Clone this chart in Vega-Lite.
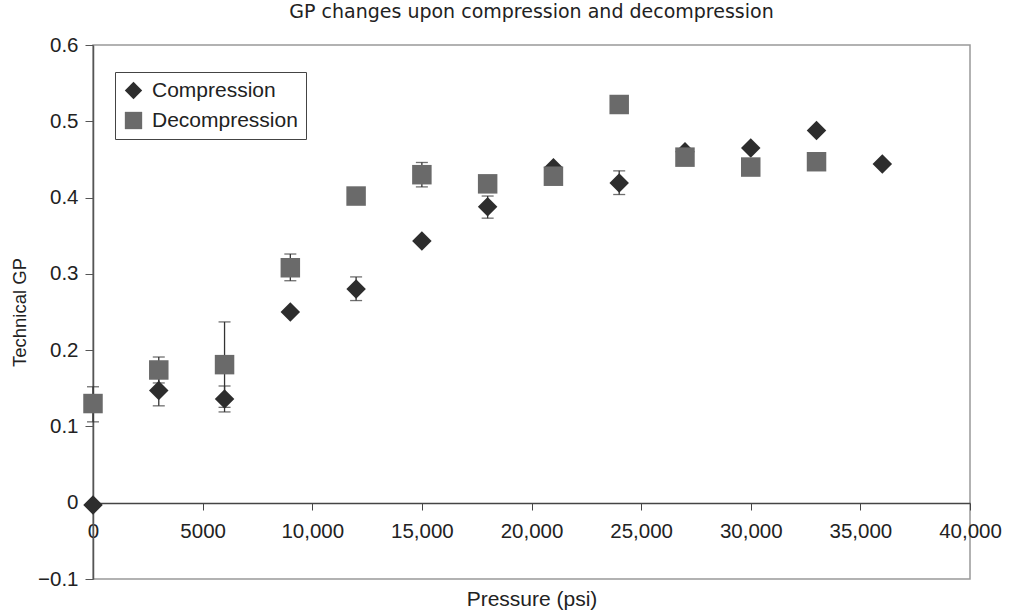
{
  "$schema": "https://vega.github.io/schema/vega-lite/v6.json",
  "width": 877,
  "height": 534,
  "autosize": {"type": "none"},
  "padding": {"left": 93, "top": 45, "right": 40, "bottom": 34},
  "background": "white",
  "title": {
    "text": "GP changes upon compression and decompression",
    "font": "DejaVu Sans",
    "fontSize": 19,
    "fontWeight": "normal",
    "color": "#222",
    "anchor": "middle",
    "offset": 13
  },
  "config": {
    "font": "Liberation Sans",
    "view": {"stroke": "#999", "strokeWidth": 1.5},
    "legend": {
      "labelFont": "Liberation Sans",
      "labelFontSize": 21,
      "labelColor": "#222",
      "symbolSize": 300,
      "symbolStrokeWidth": 0,
      "labelOffset": 8,
      "padding": 8,
      "rowPadding": 8,
      "strokeColor": "#444",
      "fillColor": "white"
    }
  },
  "datasets": {
    "gp": [
      {"pressure": 0, "series": "Compression", "gp": -0.003, "low": null, "high": null},
      {"pressure": 3000, "series": "Compression", "gp": 0.147, "low": 0.127, "high": 0.167},
      {"pressure": 6000, "series": "Compression", "gp": 0.136, "low": 0.119, "high": 0.153},
      {"pressure": 9000, "series": "Compression", "gp": 0.250, "low": null, "high": null},
      {"pressure": 12000, "series": "Compression", "gp": 0.280, "low": 0.265, "high": 0.296},
      {"pressure": 15000, "series": "Compression", "gp": 0.343, "low": null, "high": null},
      {"pressure": 18000, "series": "Compression", "gp": 0.388, "low": 0.373, "high": 0.402},
      {"pressure": 21000, "series": "Compression", "gp": 0.439, "low": null, "high": null},
      {"pressure": 24000, "series": "Compression", "gp": 0.419, "low": 0.404, "high": 0.435},
      {"pressure": 27000, "series": "Compression", "gp": 0.460, "low": null, "high": null},
      {"pressure": 30000, "series": "Compression", "gp": 0.465, "low": null, "high": null},
      {"pressure": 33000, "series": "Compression", "gp": 0.488, "low": null, "high": null},
      {"pressure": 36000, "series": "Compression", "gp": 0.444, "low": null, "high": null},
      {"pressure": 0, "series": "Decompression", "gp": 0.130, "low": 0.106, "high": 0.152},
      {"pressure": 3000, "series": "Decompression", "gp": 0.174, "low": 0.157, "high": 0.191},
      {"pressure": 6000, "series": "Decompression", "gp": 0.181, "low": 0.125, "high": 0.237},
      {"pressure": 9000, "series": "Decompression", "gp": 0.308, "low": 0.291, "high": 0.326},
      {"pressure": 12000, "series": "Decompression", "gp": 0.402, "low": null, "high": null},
      {"pressure": 15000, "series": "Decompression", "gp": 0.430, "low": 0.414, "high": 0.446},
      {"pressure": 18000, "series": "Decompression", "gp": 0.418, "low": null, "high": null},
      {"pressure": 21000, "series": "Decompression", "gp": 0.428, "low": null, "high": null},
      {"pressure": 24000, "series": "Decompression", "gp": 0.522, "low": null, "high": null},
      {"pressure": 27000, "series": "Decompression", "gp": 0.453, "low": null, "high": null},
      {"pressure": 30000, "series": "Decompression", "gp": 0.440, "low": null, "high": null},
      {"pressure": 33000, "series": "Decompression", "gp": 0.447, "low": null, "high": null}
    ]
  },
  "data": {"name": "gp"},
  "layer": [
    {
      "transform": [{"filter": "isValid(datum.low)"}],
      "mark": {"type": "errorbar", "color": "#333", "thickness": 1.3, "ticks": {"size": 12, "color": "#333"}},
      "encoding": {
        "x": {"field": "pressure", "type": "quantitative", "title": "Pressure (psi)"},
        "y": {"field": "low", "type": "quantitative", "title": "Technical GP"},
        "y2": {"field": "high"}
      }
    },
    {
      "mark": {"type": "point", "filled": true, "size": 380, "opacity": 1},
      "encoding": {
        "x": {
          "field": "pressure",
          "type": "quantitative",
          "scale": {"domain": [0, 40000], "nice": false, "zero": false},
          "axis": {
            "title": "Pressure (psi)",
            "values": [0, 5000, 10000, 15000, 20000, 25000, 30000, 35000, 40000],
            "labelExpr": "datum.value < 10000 ? format(datum.value, 'd') : format(datum.value, ',')",
            "offset": -76,
            "grid": false,
            "tickSize": 7,
            "tickColor": "#444",
            "domainColor": "#444",
            "domainWidth": 1.5,
            "labelPadding": 11,
            "labelFont": "Liberation Sans",
            "labelFontSize": 20.5,
            "labelColor": "#222",
            "labelOverlap": false,
            "labelFlush": false,
            "titleFont": "Liberation Sans",
            "titleFontSize": 21,
            "titleFontWeight": "normal",
            "titleColor": "#222",
            "titleY": 85
          }
        },
        "y": {
          "field": "gp",
          "type": "quantitative",
          "scale": {"domain": [-0.1, 0.6], "nice": false, "zero": false},
          "axis": {
            "title": "Technical GP",
            "values": [-0.1, 0, 0.1, 0.2, 0.3, 0.4, 0.5, 0.6],
            "format": ".1~f",
            "grid": false,
            "tickSize": 8,
            "tickColor": "#555",
            "domainColor": "#555",
            "domainWidth": 1.5,
            "labelPadding": 7,
            "labelFont": "Liberation Sans",
            "labelFontSize": 20.5,
            "labelColor": "#222",
            "labelOverlap": false,
            "labelFlush": false,
            "titleFont": "Liberation Sans",
            "titleFontSize": 18.5,
            "titleFontWeight": "normal",
            "titleColor": "#222",
            "titlePadding": 8
          }
        },
        "color": {
          "field": "series",
          "type": "nominal",
          "scale": {"domain": ["Compression", "Decompression"], "range": ["#2d2d2d", "#6a6a6a"]},
          "legend": {"title": null, "orient": "none", "legendX": 22, "legendY": 27}
        },
        "shape": {
          "field": "series",
          "type": "nominal",
          "scale": {"domain": ["Compression", "Decompression"], "range": ["diamond", "square"]},
          "legend": {"title": null, "orient": "none", "legendX": 22, "legendY": 27}
        }
      }
    }
  ]
}
